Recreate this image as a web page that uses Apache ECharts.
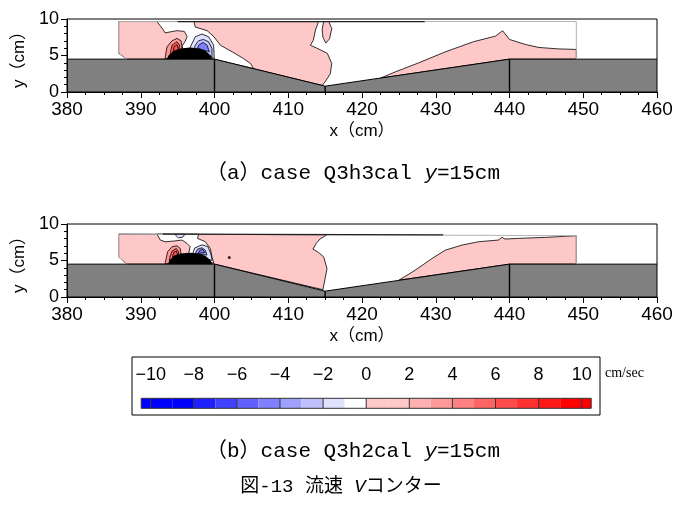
<!DOCTYPE html>
<html>
<head>
<meta charset="UTF-8">
<title>流速 Vコンター</title>
<script src="https://cdn.jsdelivr.net/npm/echarts@6/dist/echarts.min.js"></script>
<style>
  html, body { margin: 0; padding: 0; background: #fff; }
  #main { width: 689px; height: 506px; }
</style>
</head>
<body>
<div id="main"></div>
<script>
// ---- axes ----
var xMin = 380, xMax = 460, xStep = 10;
var yMin = 0, yMax = 10, yStep = 5;

// ---- colour scale (cm/sec) ----
var cbTicks = [-10, -8, -6, -4, -2, 0, 2, 4, 6, 8, 10];
var cbEdges = [-10.44, -10, -9, -8, -7, -6, -5, -4, -3, -2, -1, 0, 1, 2, 3, 4, 5, 6, 7, 8, 9, 10, 10.44];
var cbColors = ['#0000ff', '#0000ff', '#0000ff', '#2020ff', '#4040ff', '#6060ff', '#8080ff', '#a0a0ff', '#c0c0ff', '#e0e0ff',
                '#ffffff', '#ffc8c8', '#ffc8c8', '#ffb0b0', '#ff9898', '#ff8080', '#ff6464', '#ff4c4c', '#ff3030', '#ff1818',
                '#ff0000', '#ff0000'];

// ---- bed geometry (x, y in cm) ----
var bedTop = [[380, 4.5], [400, 4.5], [415, 0.8], [440, 4.5], [460, 4.5]];
var bedSteps = [400, 415, 440];

// ---- (a) case Q3h3cal ----
var aDomain = [[388.1, 4.5], [387, 5.3], [387, 9.65], [449.06, 9.65], [449.06, 4.5]];
var aTop = [[395, 9.65], [428.5, 9.65]];
var aPink = [[387, 9.65], [414.1, 9.65], [413.7, 8.5], [413.4, 7.1], [413.0, 6.4], [413.9, 6.0], [415.3, 5.3], [415.9, 3.9],
             [415.7, 2.5], [415.0, 1.4], [414.6, 0.9], [400, 4.5], [388.1, 4.5], [387, 5.3]];
var aWhite = [[392.2, 9.65], [393.0, 8.6], [393.3, 8.1], [394.9, 8.4], [395.9, 8.3], [396.3, 7.6], [396.0, 6.9], [395.6, 6.3],
              [395.8, 5.5], [399.9, 4.5], [405.3, 3.2], [404.9, 3.9], [403.9, 4.6], [402.4, 5.5], [400.8, 6.4], [399.9, 7.6],
              [399.0, 8.4], [397.4, 8.9], [397.2, 9.65]];
var aIsland = [[414.8, 9.65], [415.5, 9.65], [415.9, 8.7], [415.6, 7.3], [415.1, 6.7], [414.7, 7.5], [414.6, 8.6]];
var aPinkR = [[422.5, 1.9], [424.5, 2.75], [427.7, 4.0], [431.3, 5.5], [435.1, 6.88], [438.1, 7.66], [439.07, 8.39], [440.0, 7.2],
              [440.3, 7.1], [442.2, 6.5], [444.0, 6.1], [446.7, 5.9], [449.06, 5.83], [449.06, 4.5], [440, 4.5]];
var aRed1 = [[393.3, 4.5], [393.33, 4.82], [393.56, 6.19], [394.24, 7.02], [394.92, 7.34], [395.46, 7.02], [395.59, 6.19], [395.36, 5.5], [395.0, 5.0]];
var aRed2 = [[394.0, 5.0], [394.0, 5.28], [394.24, 6.42], [394.92, 6.88], [395.28, 6.42], [395.1, 5.5]];
var aRed3 = [[394.4, 5.4], [394.5, 6.2], [394.9, 6.5], [395.1, 6.0], [395.0, 5.4]];
var aBlue1 = [[396.6, 5.9], [396.95, 6.65], [397.4, 7.57], [398.3, 7.94], [399.2, 7.57], [399.88, 6.42], [399.97, 4.6]];
var aBlue2 = [[397.3, 6.0], [397.4, 6.42], [397.85, 7.02], [398.5, 7.2], [399.2, 6.88], [399.66, 5.97], [399.66, 4.82]];
var aBlue3 = [[397.7, 6.0], [397.85, 6.42], [398.44, 6.79], [398.98, 6.42], [399.3, 5.5]];
var aMound = [[393.5, 4.5], [393.8, 5.05], [394.46, 5.64], [395.36, 5.97], [396.7, 6.1], [397.85, 5.97], [398.76, 5.64], [399.43, 5.05], [399.66, 4.5]];
var aDots = [];

// ---- (b) case Q3h2cal ----
var bDomain = [[388.1, 4.5], [387, 5.5], [387, 8.62], [449.06, 8.4], [449.06, 4.5]];
var bTop = [[393, 8.61], [431, 8.5]];
var bPink = [[387, 8.62], [415.25, 8.52], [414.3, 7.94], [413.8, 7.34], [413.35, 6.56], [414.1, 6.1], [414.8, 5.5], [415.25, 3.9],
             [415.0, 2.53], [414.7, 1.0], [400, 4.5], [388.1, 4.5], [387, 5.5]];
var bWhite = [[392.2, 8.62], [392.65, 7.8], [393.3, 7.57], [394.45, 7.66], [395.6, 7.8], [396.27, 7.34], [396.7, 6.88], [396.5, 6.0],
              [399.9, 4.6], [399.66, 5.5], [399.43, 6.65], [398.75, 7.57], [397.7, 8.03], [397.85, 8.6]];
var bLav = [[394.6, 8.6], [396.0, 8.6], [395.7, 8.2], [395.1, 8.1]];
var bPinkR = [[425.0, 2.3], [427.2, 3.67], [429.5, 5.28], [431.3, 6.42], [433.56, 7.11], [435.8, 7.57], [438.5, 7.8], [438.98, 8.17],
              [439.4, 7.94], [441.2, 8.03], [444.9, 8.17], [449.06, 8.39], [449.06, 4.5], [440, 4.5]];
var bRed1 = [[393.3, 4.5], [393.33, 4.73], [393.64, 6.19], [394.24, 6.88], [394.92, 7.02], [395.36, 6.65], [395.46, 5.83], [395.0, 5.0]];
var bRed2 = [[393.9, 5.0], [393.9, 5.28], [394.24, 6.29], [394.82, 6.65], [395.13, 6.19], [395.13, 5.64]];
var bRed3 = [[394.3, 5.5], [394.5, 6.15], [394.85, 6.3], [395.0, 5.8]];
var bBlue1 = [[397.0, 5.8], [397.3, 6.7], [398.3, 7.15], [399.1, 6.9], [399.5, 5.9], [399.7, 5.0]];
var bBlue2 = [[397.4, 5.97], [397.7, 6.56], [398.3, 6.74], [398.75, 6.42], [398.98, 5.74]];
var bBlue3 = [[397.8, 5.97], [398.0, 6.4], [398.4, 6.5], [398.7, 6.1]];
var bMound = [[393.7, 4.5], [393.9, 5.05], [394.5, 5.6], [395.4, 5.95], [396.7, 6.05], [397.9, 5.95], [398.8, 5.6], [399.45, 5.05], [399.7, 4.5]];
var bDots = [[402.0, 5.42]];

// velocity level (cm/sec) of each contour patch, drawn in order
var fieldA = [[aPink, 1], [aWhite, -0.5], [aIsland, 1], [aPinkR, 1], [aRed1, 3], [aRed2, 5], [aRed3, 6],
              [aBlue1, -1.5], [aBlue2, -2.5], [aBlue3, -4.5]];
var fieldB = [[bPink, 1], [bWhite, -0.5], [bLav, -1.5], [bPinkR, 1], [bRed1, 3], [bRed2, 5], [bRed3, 6],
              [bBlue1, -1.5], [bBlue2, -3.5], [bBlue3, -4.5]];

var FONT = 'Liberation Sans, Arial, sans-serif';
var NAMEFONT = 'Liberation Sans, Noto Sans CJK JP, sans-serif';
var CAPFONT = 'Liberation Mono, Noto Sans CJK JP, monospace';

function colorOf(v) {
  for (var i = 0; i < cbColors.length; i++) {
    if (v >= cbEdges[i] && v < cbEdges[i + 1]) return cbColors[i];
  }
  return cbColors[cbColors.length - 1];
}

function bedAt(x) {
  for (var i = 0; i < bedTop.length - 1; i++) {
    var a = bedTop[i], b = bedTop[i + 1];
    if (x >= a[0] && x <= b[0]) return a[1] + (b[1] - a[1]) * (x - a[0]) / (b[0] - a[0]);
  }
  return 0;
}

function shapeSeries(g, pts, kind, style) {
  return {
    type: 'custom', xAxisIndex: g, yAxisIndex: g, data: pts, silent: true,
    renderItem: function (params, api) {
      if (params.dataIndex !== 0) return;
      var p = pts.map(function (d) { return api.coord(d); });
      return { type: kind, shape: { points: p }, style: style };
    }
  };
}

function panel(g, field, domain, top, mound, dots) {
  var s = [];
  field.forEach(function (f) {
    s.push(shapeSeries(g, f[0], 'polygon', { fill: colorOf(f[1]), stroke: '#000', lineWidth: 0.8 }));
  });
  s.push(shapeSeries(g, mound, 'polygon', { fill: '#000' }));
  var bedPoly = [[xMin, yMin]].concat(bedTop).concat([[xMax, yMin]]);
  s.push(shapeSeries(g, bedPoly, 'polygon', { fill: '#808080' }));
  s.push(shapeSeries(g, bedTop, 'polyline', { stroke: '#000', lineWidth: 1, fill: null }));
  bedSteps.forEach(function (x) {
    s.push(shapeSeries(g, [[x, yMin], [x, bedAt(x)]], 'polyline', { stroke: '#000', lineWidth: 1.4, fill: null }));
  });
  s.push(shapeSeries(g, domain, 'polyline', { stroke: '#b4b4b4', lineWidth: 1, fill: null }));
  s.push(shapeSeries(g, top, 'polyline', { stroke: '#222', lineWidth: 1.2, fill: null }));
  if (dots.length) {
    s.push({ type: 'scatter', xAxisIndex: g, yAxisIndex: g, data: dots, symbolSize: 3, itemStyle: { color: '#000' }, silent: true });
  }
  var frame = [[xMin, yMin], [xMax, yMin], [xMax, yMax], [xMin, yMax], [xMin, yMin]];
  s.push(shapeSeries(g, frame, 'polyline', { stroke: '#000', lineWidth: 1, fill: null }));
  return s;
}

function xAxisFor(g) {
  return {
    type: 'value', gridIndex: g, min: xMin, max: xMax, interval: xStep, z: 10,
    name: 'x（cm）', nameLocation: 'middle', nameGap: 31,
    nameTextStyle: { fontSize: 17, fontFamily: NAMEFONT, color: '#000' },
    axisLine: { lineStyle: { color: '#000', width: 1 } },
    axisTick: { length: 6, lineStyle: { color: '#000' } },
    minorTick: { show: true, splitNumber: 4, length: 3, lineStyle: { color: '#000' } },
    splitLine: { show: false },
    axisLabel: { fontSize: 19, fontFamily: FONT, color: '#000', margin: 8 }
  };
}
function yAxisFor(g) {
  return {
    type: 'value', gridIndex: g, min: yMin, max: yMax, interval: yStep, z: 10,
    name: 'y（cm）', nameLocation: 'middle', nameGap: 25, nameRotate: 90,
    nameTextStyle: { fontSize: 17, fontFamily: NAMEFONT, color: '#000' },
    axisLine: { lineStyle: { color: '#000', width: 1 } },
    axisTick: { length: 6, lineStyle: { color: '#000' } },
    minorTick: { show: true, splitNumber: 5, length: 3, lineStyle: { color: '#000' } },
    splitLine: { show: false },
    axisLabel: { fontSize: 18, fontFamily: FONT, color: '#000', margin: 8 }
  };
}

var cbCells = cbColors.map(function (c, i) { return [cbEdges[i], cbEdges[i + 1]]; });

var colorbarSeries = {
  type: 'custom', xAxisIndex: 2, yAxisIndex: 2, data: cbCells, silent: true,
  renderItem: function (params, api) {
    var lo = api.value(0), hi = api.value(1);
    var p0 = api.coord([lo, 1]), p1 = api.coord([hi, 0]);
    return { type: 'rect', shape: { x: p0[0], y: p0[1], width: p1[0] - p0[0], height: p1[1] - p0[1] },
             style: { fill: cbColors[params.dataIndex] } };
  }
};
var colorbarLines = {
  type: 'custom', xAxisIndex: 2, yAxisIndex: 2, data: cbTicks.map(function (t) { return [t]; }), silent: true,
  renderItem: function (params, api) {
    var a = api.coord([api.value(0), 1]), b = api.coord([api.value(0), 0]);
    return { type: 'line', shape: { x1: a[0], y1: a[1], x2: b[0], y2: b[1] }, style: { stroke: '#333', lineWidth: 1 } };
  }
};
var colorbarFrame = shapeSeries(2, [[cbEdges[0], 0], [cbEdges[cbEdges.length - 1], 0], [cbEdges[cbEdges.length - 1], 1], [cbEdges[0], 1], [cbEdges[0], 0]],
  'polyline', { stroke: '#333', lineWidth: 1, fill: null });

var capRich = {
  n: { fontSize: 21, fontFamily: CAPFONT, fill: '#000' },
  i: { fontSize: 21, fontFamily: CAPFONT, fontStyle: 'italic', fill: '#000' }
};
var titleRich = {
  n: { fontSize: 19, fontFamily: CAPFONT, fill: '#000' },
  i: { fontSize: 19, fontFamily: CAPFONT, fontStyle: 'italic', fill: '#000' }
};

var chart = echarts.init(document.getElementById('main'));
chart.setOption({
  animation: false,
  backgroundColor: '#fff',
  grid: [
    { left: 67, top: 19, width: 590, height: 73 },
    { left: 67, top: 224, width: 590, height: 73 },
    { left: 141.2, top: 398.3, width: 450, height: 10 }
  ],
  xAxis: [xAxisFor(0), xAxisFor(1), {
    type: 'value', gridIndex: 2, min: cbEdges[0], max: cbEdges[cbEdges.length - 1], position: 'top',
    axisLine: { show: false }, axisTick: { show: false }, splitLine: { show: false },
    axisLabel: {
      customValues: cbTicks, fontSize: 18, fontFamily: FONT, color: '#000', margin: 14,
      formatter: function (v) { return v < 0 ? '\u2212' + (-v) : String(v); }
    }
  }],
  yAxis: [yAxisFor(0), yAxisFor(1), { type: 'value', gridIndex: 2, min: 0, max: 1, show: false }],
  graphic: [
    { type: 'rect', shape: { x: 132, y: 357, width: 468, height: 58 }, style: { fill: null, stroke: '#000', lineWidth: 1 } },
    { type: 'text', style: { text: 'cm/sec', x: 605, y: 373, font: '14px "Liberation Serif", serif', fill: '#000', verticalAlign: 'middle' } },
    { type: 'text', style: { text: '{n|（a）case Q3h3cal }{i|y}{n|=15cm}', x: 353, y: 173, align: 'center', verticalAlign: 'middle', rich: capRich } },
    { type: 'text', style: { text: '{n|（b）case Q3h2cal }{i|y}{n|=15cm}', x: 353, y: 451, align: 'center', verticalAlign: 'middle', rich: capRich } },
    { type: 'text', style: { text: '{n|図-13 流速 }{i|V}{n|コンター}', x: 341, y: 487, align: 'center', verticalAlign: 'middle', rich: titleRich } }
  ],
  series: panel(0, fieldA, aDomain, aTop, aMound, aDots)
    .concat(panel(1, fieldB, bDomain, bTop, bMound, bDots))
    .concat([colorbarSeries, colorbarLines, colorbarFrame])
});
</script>
</body>
</html>
